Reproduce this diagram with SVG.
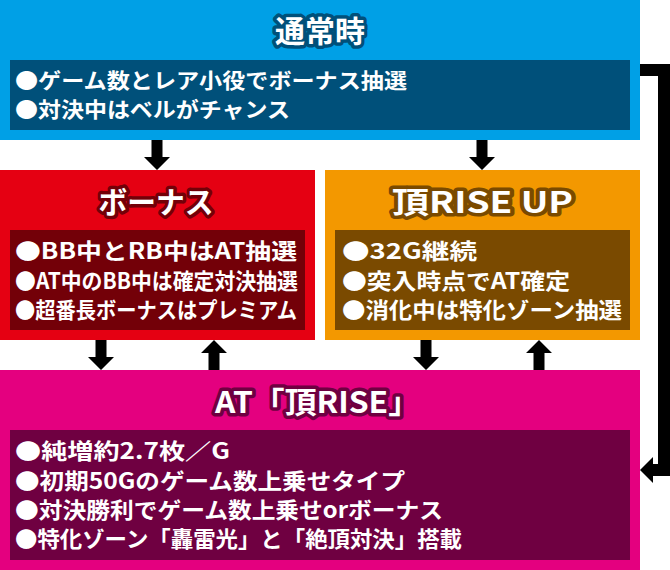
<svg xmlns="http://www.w3.org/2000/svg" width="670" height="570" viewBox="0 0 670 570">
<style>
.body{font-family:"Noto Sans CJK JP","Liberation Sans",sans-serif;font-weight:bold;font-size:22px;fill:#fff}
.small{font-size:21px}
.title{font-family:"Noto Sans CJK JP","Liberation Sans",sans-serif;font-weight:bold;font-size:30px;fill:#fff;paint-order:stroke;stroke-width:7;stroke-linejoin:round;text-anchor:middle}
.arrow{fill:#000}
.line{fill:none;stroke:#000;stroke-width:12;stroke-linejoin:miter}
</style>
<rect width="670" height="570" fill="#fff"/>
<g id="normal">
<rect x="0" y="0" width="640" height="140" fill="#00A0E6"/>
<rect x="10" y="60" width="620" height="70" fill="#00507A"/>
<text class="title" x="320" y="42" stroke="#00507A" textLength="90" lengthAdjust="spacingAndGlyphs">通常時</text>
<text class="body small" x="15" y="88" textLength="392" lengthAdjust="spacingAndGlyphs">●ゲーム数とレア小役でボーナス抽選</text>
<text class="body small" x="15" y="117" textLength="275" lengthAdjust="spacingAndGlyphs">●対決中はベルがチャンス</text>
</g>
<g id="bonus">
<rect x="0" y="170" width="315" height="170" fill="#E50012"/>
<rect x="10" y="230" width="295" height="100" fill="#730008"/>
<text class="title" x="156" y="213" stroke="#730008" font-size="28" textLength="115" lengthAdjust="spacingAndGlyphs">ボーナス</text>
<text class="body" x="15" y="259" textLength="282" lengthAdjust="spacingAndGlyphs">●BB中とRB中はAT抽選</text>
<text class="body" x="15" y="289" textLength="283" lengthAdjust="spacingAndGlyphs">●AT中のBB中は確定対決抽選</text>
<text class="body" x="15" y="318" textLength="282" lengthAdjust="spacingAndGlyphs">●超番長ボーナスはプレミアム</text>
</g>
<g id="riseup">
<rect x="325" y="170" width="315" height="170" fill="#F39800"/>
<rect x="335" y="230" width="295" height="100" fill="#7A4A00"/>
<text class="title" x="482.5" y="213" stroke="#7A4A00" textLength="181" lengthAdjust="spacingAndGlyphs">頂RISE UP</text>
<text class="body" x="342" y="259" textLength="135" lengthAdjust="spacingAndGlyphs">●32G継続</text>
<text class="body" x="342" y="289" textLength="228" lengthAdjust="spacingAndGlyphs">●突入時点でAT確定</text>
<text class="body" x="342" y="318" textLength="280" lengthAdjust="spacingAndGlyphs">●消化中は特化ゾーン抽選</text>
</g>
<g id="at">
<rect x="0" y="370" width="640" height="200" fill="#E4007F"/>
<rect x="10" y="430" width="620" height="130" fill="#6F0041"/>
<text class="title" x="317.5" y="413" stroke="#6F0041" textLength="205" lengthAdjust="spacingAndGlyphs">AT「頂RISE」</text>
<text class="body" x="15" y="459" textLength="215" lengthAdjust="spacingAndGlyphs">●純増約2.7枚／G</text>
<text class="body" x="15" y="489" textLength="390" lengthAdjust="spacingAndGlyphs">●初期50Gのゲーム数上乗せタイプ</text>
<text class="body" x="15" y="518" textLength="428" lengthAdjust="spacingAndGlyphs">●対決勝利でゲーム数上乗せorボーナス</text>
<text class="body" x="15" y="547" textLength="447" lengthAdjust="spacingAndGlyphs">●特化ゾーン「轟雷光」と「絶頂対決」搭載</text>
</g>
<g id="connectors">
<path class="arrow" d="M151.5,140 H162.5 V157 H170 L157,170 L144,157 H151.5 Z"/>
<path class="arrow" d="M476.5,140 H487.5 V157 H495 L482,170 L469,157 H476.5 Z"/>
<path class="arrow" d="M95.5,340 H106.5 V357 H114 L101,370 L88,357 H95.5 Z"/>
<path class="arrow" d="M208.5,370 H219.5 V353 H227 L214,340 L201,353 H208.5 Z"/>
<path class="arrow" d="M420.5,340 H431.5 V357 H439 L426,370 L413,357 H420.5 Z"/>
<path class="arrow" d="M533.5,370 H544.5 V353 H552 L539,340 L526,353 H533.5 Z"/>
<path class="line" d="M640,70 H664 V470 H652"/>
<path class="arrow" d="M653,457 V483 L640,470 Z"/>
</g>
</svg>
